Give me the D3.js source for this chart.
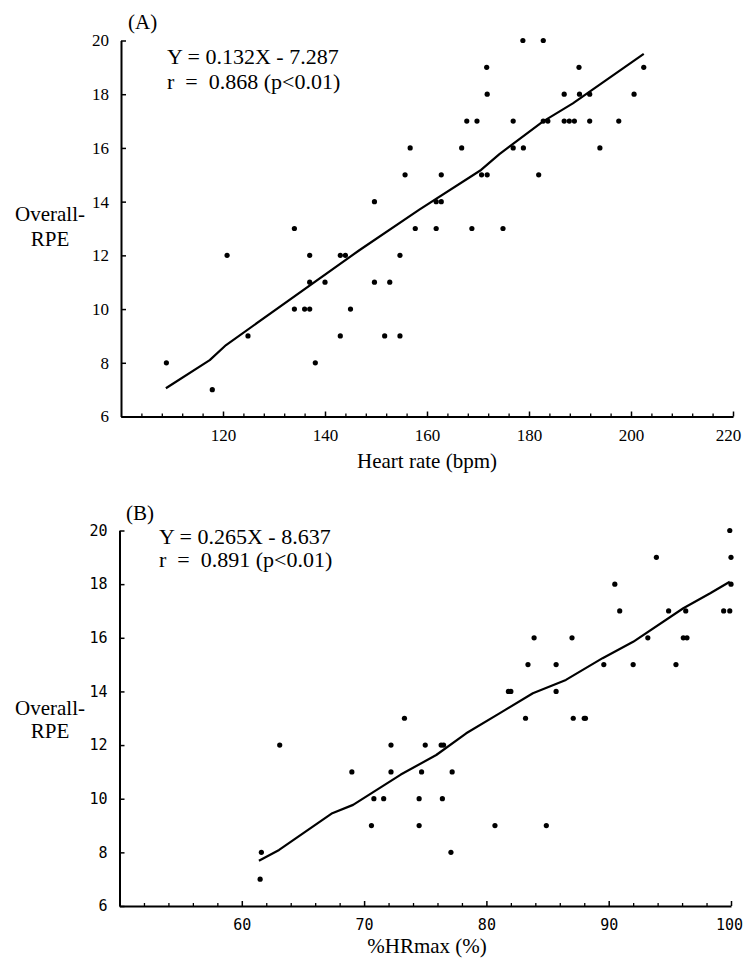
<!DOCTYPE html>
<html>
<head>
<meta charset="utf-8">
<script src="https://cdnjs.cloudflare.com/ajax/libs/d3/7.8.5/d3.min.js"></script>
<style>
  body { margin: 0; background: #fff; }
  text { fill: #000; }
</style>
</head>
<body>
<script>
// ---- panel A : heart rate vs overall RPE ----
var hrA  = [178.8, 182.8,
            171.7, 189.8, 202.5,
            171.8, 186.9, 189.9, 191.9, 200.6,
            167.8, 169.8, 176.9, 182.8, 183.7, 186.9, 187.9, 188.9, 191.9, 197.6,
            156.7, 166.8, 176.9, 178.9, 193.9,
            155.7, 162.8, 170.7, 171.8, 181.9,
            149.7, 161.8, 162.8,
            134.0, 157.7, 161.8, 168.8, 174.9,
            120.8, 137.0, 143.0, 144.0, 154.7,
            137.0, 140.0, 149.7, 152.7,
            134.0, 136.0, 137.0, 145.0,
            124.9, 143.0, 151.7, 154.7,
            108.9, 138.1,
            117.9];
var rpeA = [20, 20,
            19, 19, 19,
            18, 18, 18, 18, 18,
            17, 17, 17, 17, 17, 17, 17, 17, 17, 17,
            16, 16, 16, 16, 16,
            15, 15, 15, 15, 15,
            14, 14, 14,
            13, 13, 13, 13, 13,
            12, 12, 12, 12, 12,
            11, 11, 11, 11,
            10, 10, 10, 10,
            9, 9, 9, 9,
            8, 8,
            7];
// fitted line, vertices
var fitA_x = [108.8, 117.4, 120.6, 146.8, 158.5, 170.6, 174.2, 182.7, 188.6, 202.5];
var fitA_y = [7.05, 8.1, 8.66, 12.2, 13.7, 15.18, 15.77, 16.98, 17.66, 19.5];
var xTicksA = [120, 140, 160, 180, 200, 220];

// ---- panel B : %HRmax vs overall RPE ----
var hrmaxB = [99.9,
              93.9, 100,
              90.5, 100,
              90.9, 94.9, 96.3, 99.4, 99.9,
              83.9, 87.0, 93.2, 96.1, 96.4,
              83.4, 85.7, 89.6, 92.0, 95.5,
              81.8, 82.0, 85.7,
              73.3, 83.2, 87.1, 88.0, 88.1,
              63.1, 72.2, 75.0, 76.3, 76.5,
              69.0, 72.2, 74.7, 77.2,
              70.8, 71.6, 74.5, 76.4,
              70.6, 74.5, 80.7, 84.9,
              61.6, 77.1,
              61.5];
var rpeB = [20,
            19, 19,
            18, 18,
            17, 17, 17, 17, 17,
            16, 16, 16, 16, 16,
            15, 15, 15, 15, 15,
            14, 14, 14,
            13, 13, 13, 13, 13,
            12, 12, 12, 12, 12,
            11, 11, 11, 11,
            10, 10, 10, 10,
            9, 9, 9, 9,
            8, 8,
            7];
var fitB_x = [61.4, 63.05, 67.4, 69.1, 73.0, 75.9, 78.35, 81.07, 83.8, 86.5, 89.5, 92.0, 96.1, 98.3, 99.9];
var fitB_y = [7.69, 8.09, 9.46, 9.77, 10.9, 11.63, 12.44, 13.18, 13.93, 14.43, 15.24, 15.85, 17.1, 17.66, 18.09];
var xTicksB = [60, 70, 80, 90, 100];

var yTicks = [6, 8, 10, 12, 14, 16, 18, 20];

var w = 744;
var h = 959;
var serif = "'Liberation Serif', 'Times New Roman', serif";
var mono = "'DejaVu Sans Mono', monospace";

var svg = d3.select("body")
            .append("svg")
            .attr("width", w)
            .attr("height", h);

function drawPanel(p) {
  var xScale = d3.scaleLinear().domain(p.xDomain).range(p.xRange);
  var yScale = d3.scaleLinear().domain([6, 20]).range(p.yRange);

  var g = svg.append("g");

  // minor ticks along x
  var minorAxis = d3.axisBottom(xScale)
                    .tickValues(p.minor)
                    .tickSize(-3)
                    .tickSizeOuter(0)
                    .tickFormat("");
  g.append("g")
   .attr("transform", "translate(0," + p.yRange[0] + ")")
   .call(minorAxis)
   .call(function(s) {
     s.select(".domain").remove();
     s.selectAll("line").attr("stroke-width", 1.3);
   });

  var xAxis = d3.axisBottom(xScale)
                .tickValues(p.xTicks)
                .tickSize(-5)
                .tickSizeOuter(0)
                .tickPadding(p.xPad)
                .tickFormat(d3.format("d"));
  g.append("g")
   .attr("transform", "translate(0," + p.yRange[0] + ")")
   .call(xAxis)
   .call(function(s) {
     s.select(".domain").attr("stroke-width", 2);
     s.selectAll("line").attr("stroke-width", 1.5);
     s.selectAll("text")
      .attr("font-family", p.tickFont)
      .attr("font-size", p.tickSize + "px")
      .attr("dx", function(d) { return d == p.xTicks[p.xTicks.length - 1] ? p.lastDx : 0; });
   });

  var yAxis = d3.axisLeft(yScale)
                .tickValues(yTicks)
                .tickSize(-5)
                .tickSizeOuter(0)
                .tickPadding(12)
                .tickFormat(d3.format("d"));
  g.append("g")
   .attr("transform", "translate(" + p.yAxisX + ",0)")
   .call(yAxis)
   .call(function(s) {
     s.select(".domain").attr("stroke-width", 2);
     s.selectAll("line").attr("stroke-width", 1.5);
     s.selectAll("text")
      .attr("font-family", p.tickFont)
      .attr("font-size", p.tickSize + "px");
   });

  // regression line
  var line = d3.line()
               .x(function(d) { return xScale(d[0]); })
               .y(function(d) { return yScale(d[1]); });
  g.append("path")
   .datum(d3.zip(p.fitX, p.fitY))
   .attr("d", line)
   .attr("fill", "none")
   .attr("stroke", "#000")
   .attr("stroke-width", 2.2)
   .attr("stroke-linejoin", "round");

  // points
  g.selectAll("circle")
   .data(d3.zip(p.xs, p.ys))
   .enter()
   .append("circle")
   .attr("cx", function(d) { return xScale(d[0]); })
   .attr("cy", function(d) { return yScale(d[1]); })
   .attr("r", 2.6)
   .attr("fill", "#000");

  // panel letter and equation
  g.append("text")
   .attr("x", p.letterX).attr("y", p.letterY)
   .attr("font-family", serif).attr("font-size", "21px")
   .text(p.letter);
  g.append("text")
   .attr("x", p.eqX).attr("y", p.eqY1)
   .attr("font-family", serif).attr("font-size", "22px")
   .style("white-space", "pre")
   .text(p.eq1);
  g.append("text")
   .attr("x", p.eqX).attr("y", p.eqY2)
   .attr("font-family", serif).attr("font-size", "22px")
   .style("white-space", "pre")
   .text(p.eq2);

  // y title
  g.append("text")
   .attr("x", 50).attr("y", p.yTitleY1)
   .attr("text-anchor", "middle")
   .attr("font-family", serif).attr("font-size", "21px")
   .text("Overall-");
  g.append("text")
   .attr("x", 50).attr("y", p.yTitleY2)
   .attr("text-anchor", "middle")
   .attr("font-family", serif).attr("font-size", "21px")
   .text("RPE");

  // x title
  g.append("text")
   .attr("x", 427).attr("y", p.xTitleY)
   .attr("text-anchor", "middle")
   .attr("font-family", serif).attr("font-size", "21px")
   .text(p.xTitle);
}

drawPanel({
  xs: hrA, ys: rpeA, fitX: fitA_x, fitY: fitA_y,
  xDomain: [100, 220], xRange: [121, 733],
  yRange: [416.5, 40.5], yAxisX: 121,
  xTicks: xTicksA,
  minor: d3.range(104, 220, 4).filter(function(v) { return v % 20 != 0; }),
  xPad: 12, tickFont: serif, tickSize: 17, lastDx: -5,
  letter: "(A)", letterX: 128, letterY: 29,
  eq1: "Y = 0.132X - 7.287", eq2: "r  =  0.868 (p<0.01)",
  eqX: 167, eqY1: 64, eqY2: 89,
  yTitleY1: 221, yTitleY2: 246,
  xTitle: "Heart rate (bpm)", xTitleY: 468
});

drawPanel({
  xs: hrmaxB, ys: rpeB, fitX: fitB_x, fitY: fitB_y,
  xDomain: [50, 100], xRange: [119.5, 731],
  yRange: [906, 530.5], yAxisX: 119.5,
  xTicks: xTicksB,
  minor: d3.range(52, 100, 2).filter(function(v) { return v % 10 != 0; }),
  xPad: 13, tickFont: mono, tickSize: 15, lastDx: -2,
  letter: "(B)", letterX: 126, letterY: 520,
  eq1: "Y = 0.265X - 8.637", eq2: "r  =  0.891 (p<0.01)",
  eqX: 159, eqY1: 544, eqY2: 567,
  yTitleY1: 715, yTitleY2: 738,
  xTitle: "%HRmax (%)", xTitleY: 953
});
</script>
</body>
</html>
